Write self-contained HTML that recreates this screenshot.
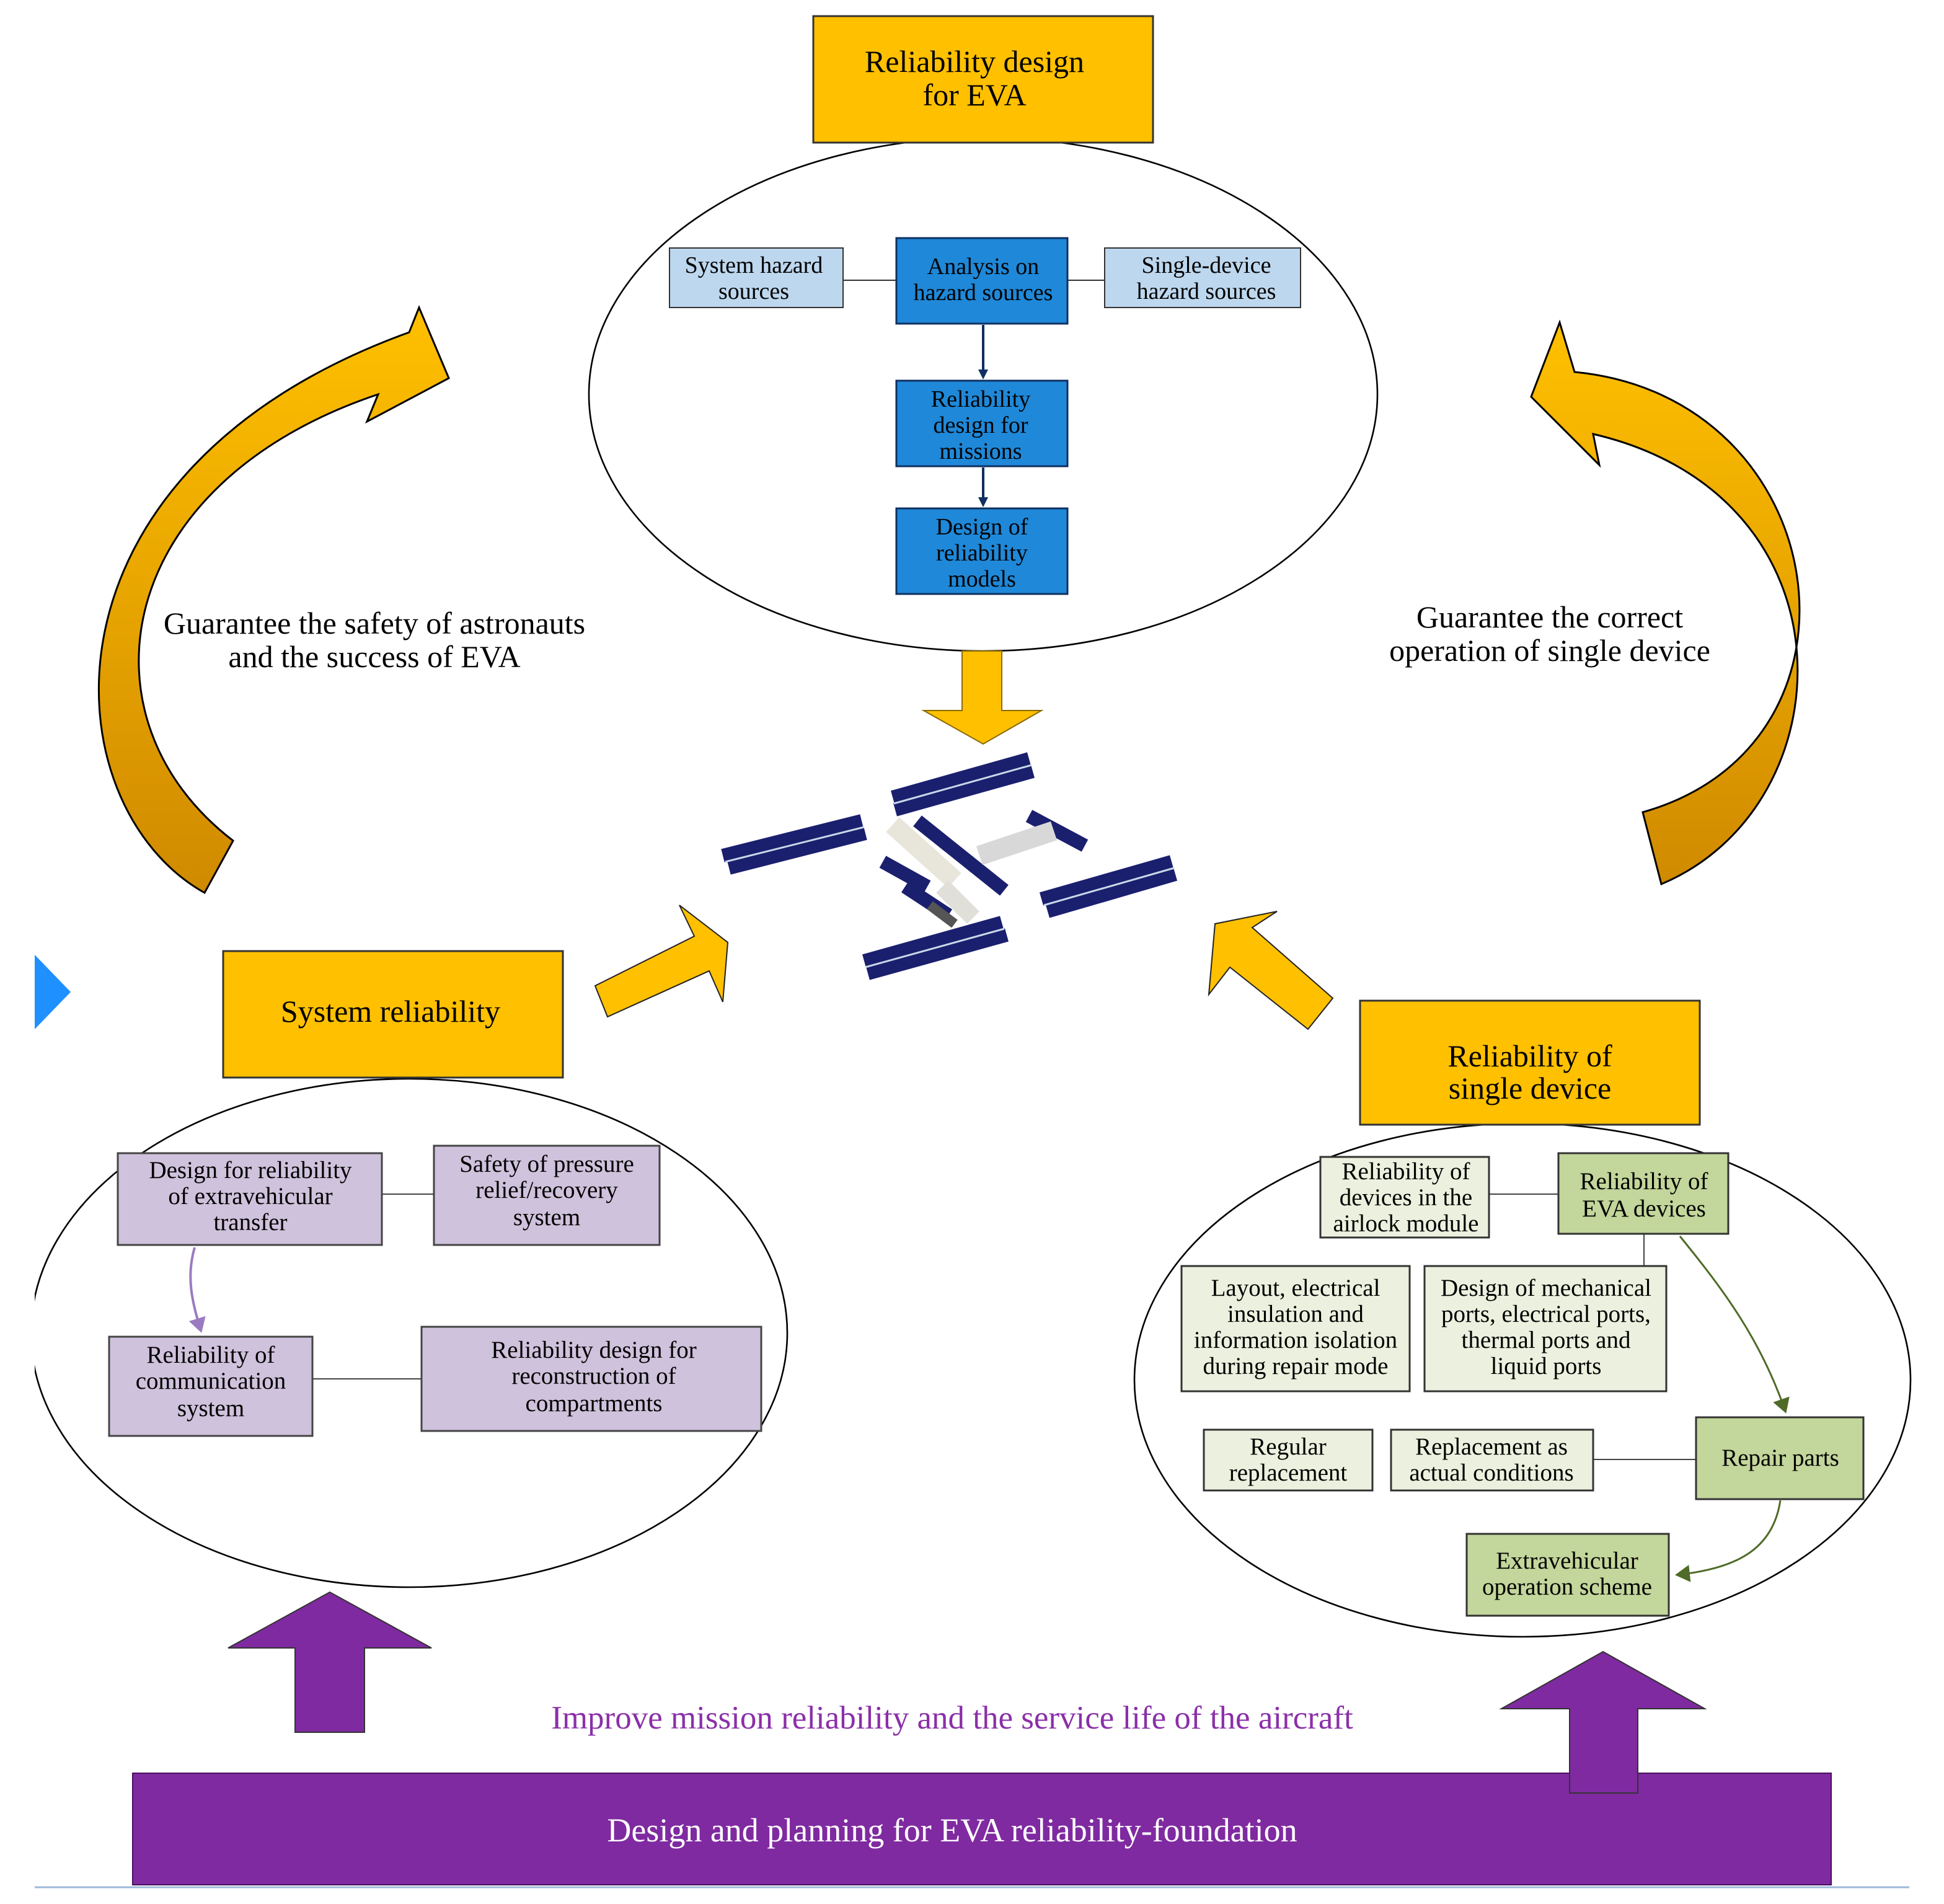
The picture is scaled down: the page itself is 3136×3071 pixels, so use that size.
<!DOCTYPE html>
<html><head><meta charset="utf-8"><style>
html,body{margin:0;padding:0;background:#fff}
svg{display:block}
text{font-family:"Liberation Serif",serif}
</style></head><body>
<svg width="3136" height="3071" viewBox="0 0 1568 1535.5" xmlns="http://www.w3.org/2000/svg">
<defs>
<linearGradient id="g1" x1="0" y1="0" x2="0" y2="1"><stop offset="0" stop-color="#FFC000"/><stop offset="1" stop-color="#D08A00"/></linearGradient>
<marker id="ab" markerWidth="8" markerHeight="8" refX="6" refY="4" orient="auto" markerUnits="userSpaceOnUse"><path d="M0,0 L8,4 L0,8Z" fill="#0F3060"/></marker>
<marker id="ap" markerWidth="14" markerHeight="14" refX="10" refY="7" orient="auto" markerUnits="userSpaceOnUse"><path d="M0,0 L12,7 L0,14Z" fill="#9A7BC0"/></marker>
<marker id="ag" markerWidth="14" markerHeight="14" refX="10" refY="7" orient="auto" markerUnits="userSpaceOnUse"><path d="M0,0 L12,7 L0,14Z" fill="#4F6B28"/></marker>
</defs>
<ellipse cx="793" cy="318" rx="318" ry="207" fill="#fff" stroke="#000" stroke-width="1.3"/>
<ellipse cx="330" cy="1075" rx="305" ry="205" fill="#fff" stroke="#000" stroke-width="1.3"/>
<ellipse cx="1228" cy="1113" rx="313" ry="207" fill="#fff" stroke="#000" stroke-width="1.3"/>
<rect x="0" y="850" width="28" height="450" fill="#fff"/>
<rect x="656" y="13" width="274" height="102" fill="#FFC000" stroke="#333" stroke-width="1.5"/>
<text x="786" y="58" font-size="25" text-anchor="middle">Reliability design</text>
<text x="786" y="85" font-size="25" text-anchor="middle">for EVA</text>
<line x1="680" y1="226" x2="723" y2="226" stroke="#333"/><line x1="861" y1="226" x2="891" y2="226" stroke="#333"/>
<rect x="540" y="200" width="140" height="48" fill="#BDD7EE" stroke="#333"/>
<text x="608" y="220" font-size="19" text-anchor="middle">System hazard</text><text x="608" y="241" font-size="19" text-anchor="middle">sources</text>
<rect x="891" y="200" width="158" height="48" fill="#BDD7EE" stroke="#333"/>
<text x="973" y="220" font-size="19" text-anchor="middle">Single-device</text><text x="973" y="241" font-size="19" text-anchor="middle">hazard sources</text>
<g fill="#1F88D8" stroke="#0F3060" stroke-width="1.5">
<rect x="723" y="192" width="138" height="69"/><rect x="723" y="307" width="138" height="69"/><rect x="723" y="410" width="138" height="69"/></g>
<text x="793" y="221" font-size="19" text-anchor="middle">Analysis on</text><text x="793" y="242" font-size="19" text-anchor="middle">hazard sources</text>
<text x="791" y="328" font-size="19" text-anchor="middle">Reliability</text><text x="791" y="349" font-size="19" text-anchor="middle">design for</text><text x="791" y="370" font-size="19" text-anchor="middle">missions</text>
<text x="792" y="431" font-size="19" text-anchor="middle">Design of</text><text x="792" y="452" font-size="19" text-anchor="middle">reliability</text><text x="792" y="473" font-size="19" text-anchor="middle">models</text>
<line x1="793" y1="262" x2="793" y2="304" stroke="#0F3060" stroke-width="2" marker-end="url(#ab)"/>
<line x1="793" y1="377" x2="793" y2="407" stroke="#0F3060" stroke-width="2" marker-end="url(#ab)"/>
<path d="M776,525 L808,525 L808,573 L840,573 L793,600 L745,573 L776,573Z" fill="#FFC000" stroke="#8a6a00" stroke-width="1"/>
<path d="M165,720 C40,650 20,380 330,268 L338,248 L362,305 L296,340 L305,318 C90,390 60,580 188,678 Z" fill="url(#g1)" stroke="#000" stroke-width="1.5"/>
<path d="M1340,713 C1490,650 1500,400 1285,350 L1290,375 L1235,320 L1258,260 L1270,300 C1480,320 1520,600 1325,655 Z" fill="url(#g1)" stroke="#000" stroke-width="1.5"/>
<text x="302" y="511" font-size="25" text-anchor="middle">Guarantee the safety of astronauts</text>
<text x="302" y="538" font-size="25" text-anchor="middle">and the success of EVA</text>
<text x="1250" y="506" font-size="25" text-anchor="middle">Guarantee the correct</text>
<text x="1250" y="533" font-size="25" text-anchor="middle">operation of single device</text>
<g>
<g stroke="#1A1F6E" stroke-width="11" fill="none">
<line x1="583" y1="690" x2="695" y2="662"/><line x1="588" y1="700" x2="698" y2="672"/>
<line x1="720" y1="643" x2="830" y2="612"/><line x1="722" y1="653" x2="833" y2="622"/>
<line x1="840" y1="725" x2="945" y2="695"/><line x1="845" y1="735" x2="948" y2="705"/>
<line x1="697" y1="775" x2="808" y2="744"/><line x1="700" y1="785" x2="812" y2="754"/>
<line x1="740" y1="662" x2="810" y2="718"/><line x1="830" y1="658" x2="875" y2="682"/>
<line x1="712" y1="695" x2="748" y2="715"/><line x1="730" y1="715" x2="765" y2="738"/>
</g>
<g stroke="#C8D8E8" stroke-width="1.5"><line x1="585" y1="695" x2="697" y2="667"/><line x1="721" y1="648" x2="832" y2="617"/><line x1="842" y1="730" x2="947" y2="700"/><line x1="698" y1="780" x2="810" y2="749"/></g>
<line x1="720" y1="665" x2="770" y2="710" stroke="#E8E6DA" stroke-width="16"/>
<line x1="760" y1="715" x2="785" y2="740" stroke="#E0E0D8" stroke-width="14"/>
<line x1="790" y1="690" x2="850" y2="670" stroke="#D8D8D8" stroke-width="16"/>
<line x1="750" y1="730" x2="770" y2="745" stroke="#555" stroke-width="8"/>
</g>
<path d="M28,770 L57,800 L28,830Z" fill="#1E90FF"/>
<path d="M480,795 L560,755 L548,730 L587,760 L583,808 L572,783 L490,820Z" fill="#FFC000" stroke="#222" stroke-width="1"/>
<path d="M1075,805 L1010,748 L1030,735 L980,745 L975,802 L992,780 L1055,830Z" fill="#FFC000" stroke="#222" stroke-width="1"/>
<rect x="180" y="767" width="274" height="102" fill="#FFC000" stroke="#333" stroke-width="1.5"/>
<text x="315" y="824" font-size="25" text-anchor="middle">System reliability</text>
<rect x="1097" y="807" width="274" height="100" fill="#FFC000" stroke="#333" stroke-width="1.5"/>
<text x="1234" y="860" font-size="25" text-anchor="middle">Reliability of</text><text x="1234" y="886" font-size="25" text-anchor="middle">single device</text>
<g fill="#CFC2DC" stroke="#444" stroke-width="1.5">
<rect x="95" y="930" width="213" height="74"/><rect x="350" y="924" width="182" height="80"/><rect x="88" y="1078" width="164" height="80"/><rect x="340" y="1070" width="274" height="84"/></g>
<line x1="308" y1="963" x2="350" y2="963" stroke="#444"/><line x1="252" y1="1112" x2="340" y2="1112" stroke="#444"/>
<path d="M157,1006 C150,1030 155,1050 162,1073" fill="none" stroke="#9A7BC0" stroke-width="2" marker-end="url(#ap)"/>
<g font-size="19.5" text-anchor="middle">
<text x="202" y="950">Design for reliability</text><text x="202" y="971">of extravehicular</text><text x="202" y="992">transfer</text>
<text x="441" y="945">Safety of pressure</text><text x="441" y="966">relief/recovery</text><text x="441" y="988">system</text>
<text x="170" y="1099">Reliability of</text><text x="170" y="1120">communication</text><text x="170" y="1142">system</text>
<text x="479" y="1095">Reliability design for</text><text x="479" y="1116">reconstruction of</text><text x="479" y="1138">compartments</text>
</g>
<line x1="1201" y1="963" x2="1257" y2="963" stroke="#444"/><line x1="1326" y1="995" x2="1326" y2="1021" stroke="#444"/>
<line x1="1285" y1="1177" x2="1368" y2="1177" stroke="#444"/>
<g fill="#EBF1DE" stroke="#333" stroke-width="1.5">
<rect x="1065" y="933" width="136" height="65"/><rect x="953" y="1021" width="184" height="101"/><rect x="1149" y="1021" width="195" height="101"/><rect x="971" y="1153" width="136" height="49"/><rect x="1122" y="1153" width="163" height="49"/></g>
<g fill="#C3D69B" stroke="#333" stroke-width="1.5">
<rect x="1257" y="930" width="137" height="65"/><rect x="1368" y="1143" width="135" height="66"/><rect x="1183" y="1237" width="163" height="66"/></g>
<path d="M1355,997 C1390,1040 1420,1080 1440,1138" fill="none" stroke="#4F6B28" stroke-width="1.5" marker-end="url(#ag)"/>
<path d="M1436,1210 C1430,1250 1400,1265 1353,1270" fill="none" stroke="#4F6B28" stroke-width="1.5" marker-end="url(#ag)"/>
<g font-size="19.5" text-anchor="middle">
<text x="1134" y="951">Reliability of</text><text x="1134" y="972">devices in the</text><text x="1134" y="993">airlock module</text>
<text x="1326" y="959">Reliability of</text><text x="1326" y="981">EVA devices</text>
<text x="1045" y="1045">Layout, electrical</text><text x="1045" y="1066">insulation and</text><text x="1045" y="1087">information isolation</text><text x="1045" y="1108">during repair mode</text>
<text x="1247" y="1045">Design of mechanical</text><text x="1247" y="1066">ports, electrical ports,</text><text x="1247" y="1087">thermal ports and</text><text x="1247" y="1108">liquid ports</text>
<text x="1039" y="1173">Regular</text><text x="1039" y="1194">replacement</text>
<text x="1203" y="1173">Replacement as</text><text x="1203" y="1194">actual conditions</text>
<text x="1436" y="1182">Repair parts</text>
<text x="1264" y="1265">Extravehicular</text><text x="1264" y="1286">operation scheme</text>
</g>
<rect x="107" y="1430" width="1370" height="90" fill="#7F2AA0" stroke="#4a1060"/>
<text x="768" y="1485" font-size="27" fill="#fff" text-anchor="middle">Design and planning for EVA reliability-foundation</text>
<path d="M238,1397 L294,1397 L294,1329 L348,1329 L266,1284 L184,1329 L238,1329Z" fill="#7F2AA0" stroke="#333"/>
<path d="M1266,1446 L1321,1446 L1321,1378 L1375,1378 L1293,1332 L1211,1378 L1266,1378Z" fill="#7F2AA0" stroke="#333"/>
<text x="768" y="1394" font-size="26.5" fill="#8B2FA8" text-anchor="middle">Improve mission reliability and the service life of the aircraft</text>
<line x1="28" y1="1522" x2="1540" y2="1522" stroke="#9CB8D8" stroke-width="1.5"/>
</svg>
</body></html>
